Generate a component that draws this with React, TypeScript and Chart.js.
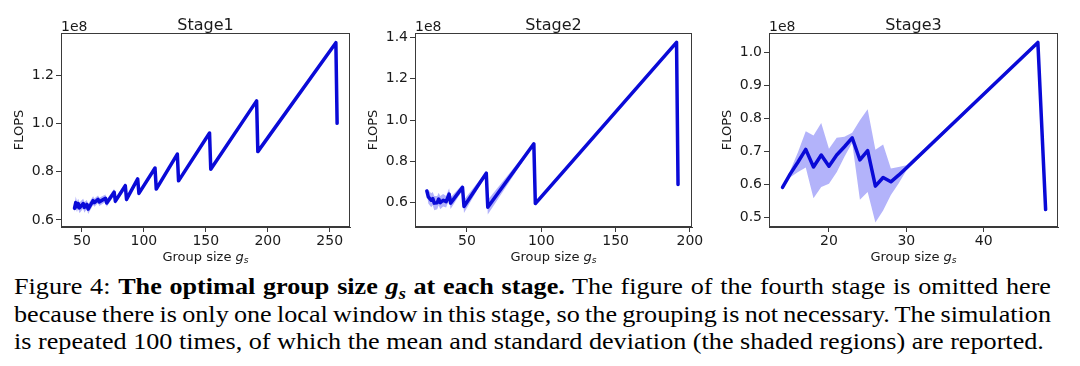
import React, { useEffect, useRef } from "react";
import { Chart, registerables } from "chart.js";

Chart.register(...registerables);

// ---------- data (FLOPS in units of 1e8) ----------
const STAGE1_GS = [44, 45, 46, 47, 48, 51, 52, 54, 55, 59, 60, 63, 64, 69, 70, 76, 77, 85, 86, 95, 96, 109, 110, 127, 128, 153, 154, 191, 192, 255, 256];
const STAGE1_MEAN = [0.648, 0.672, 0.655, 0.668, 0.650, 0.668, 0.652, 0.665, 0.645, 0.680, 0.672, 0.685, 0.675, 0.690, 0.670, 0.715, 0.678, 0.742, 0.685, 0.770, 0.710, 0.815, 0.728, 0.873, 0.762, 0.960, 0.810, 1.093, 0.883, 1.334, 1.000];
const STAGE1_STD = [0.015, 0.025, 0.022, 0.02, 0.022, 0.02, 0.022, 0.018, 0.02, 0.018, 0.017, 0.016, 0.017, 0.016, 0.015, 0.014, 0.013, 0.012, 0.012, 0.009, 0.009, 0.007, 0.007, 0.005, 0.005, 0.004, 0.004, 0.003, 0.003, 0.003, 0.003];
const STAGE1_X_TICKS = [50, 100, 150, 200, 250];
const STAGE1_Y_TICKS = [0.6, 0.8, 1.0, 1.2];

const STAGE2_GS = [23, 24, 26, 27, 28, 30, 31, 32, 34, 36, 38, 39, 47, 48, 63, 64, 95, 96, 191, 192];
const STAGE2_MEAN = [0.657, 0.628, 0.612, 0.620, 0.598, 0.600, 0.618, 0.600, 0.612, 0.605, 0.642, 0.598, 0.674, 0.582, 0.743, 0.578, 0.885, 0.596, 1.376, 0.688];
const STAGE2_STD = [0.012, 0.032, 0.034, 0.032, 0.034, 0.032, 0.03, 0.032, 0.03, 0.028, 0.028, 0.028, 0.014, 0.032, 0.007, 0.035, 0.004, 0.01, 0.003, 0.003];
const STAGE2_X_TICKS = [50, 100, 150, 200];
const STAGE2_Y_TICKS = [0.6, 0.8, 1.0, 1.2, 1.4];

const STAGE3_GS = [14, 15, 16, 17, 18, 19, 20, 21, 22, 23, 24, 25, 26, 27, 28, 29, 30, 47, 48];
const STAGE3_MEAN = [0.591, 0.632, 0.668, 0.706, 0.653, 0.689, 0.655, 0.689, 0.714, 0.741, 0.674, 0.702, 0.595, 0.621, 0.608, 0.628, 0.650, 1.029, 0.524];
const STAGE3_STD = [0.003, 0.01, 0.03, 0.055, 0.095, 0.097, 0.053, 0.052, 0.03, 0.015, 0.12, 0.125, 0.11, 0.1, 0.04, 0.025, 0.008, 0.002, 0.002];
const STAGE3_X_TICKS = [20, 30, 40];
const STAGE3_Y_TICKS = [0.5, 0.6, 0.7, 0.8, 0.9, 1.0];

const TITLES = ["Stage1", "Stage2", "Stage3"];
const X_LABEL = "Group size ";
const Y_LABEL = "FLOPS";
const OFFSET_TEXT = "1e8";

// ---------- styles ----------
const LINE = "rgb(10,10,215)";
const BAND = "rgba(20,20,240,0.32)";
const AXIS = "#3a3a3a";
const TEXT = "#1a1a1a";
const FONT = '"DejaVu Sans", sans-serif';
const CANVAS_H = 268;
const AREA_TOP = 33;
const AREA_BOTTOM = 227;
const XAXIS_H = 30;

type PanelProps = {
  left: number;
  width: number;
  areaLeft: number;
  areaRight: number;
  gs: number[];
  mean: number[];
  std: number[];
  xTicks: number[];
  yTicks: number[];
  xRange: [number, number];
  yRange: [number, number];
  title: string;
};

function Panel(p: PanelProps) {
  const ref = useRef<HTMLCanvasElement>(null);
  useEffect(() => {
    if (!ref.current) return;
    const lower = p.gs.map((x, i) => ({ x, y: p.mean[i] - p.std[i] }));
    const upper = p.gs.map((x, i) => ({ x, y: p.mean[i] + p.std[i] }));
    const line = p.gs.map((x, i) => ({ x, y: p.mean[i] }));

    const decor = {
      id: "decor",
      afterDraw(chart: any) {
        const { ctx, chartArea: a } = chart;
        ctx.save();
        ctx.strokeStyle = AXIS;
        ctx.lineWidth = 1;
        const l = Math.round(a.left) + 0.5;
        const t = Math.round(a.top) + 0.5;
        const r = Math.round(a.right) - 0.5;
        const b = Math.round(a.bottom) - 0.5;
        ctx.strokeRect(l, t, r - l, b - t);
        ctx.fillStyle = TEXT;
        ctx.font = `16px ${FONT}`;
        ctx.textAlign = "center";
        ctx.textBaseline = "alphabetic";
        ctx.fillText(p.title, (a.left + a.right) / 2, 29.5);
        ctx.font = `14px ${FONT}`;
        ctx.textAlign = "left";
        ctx.fillText(OFFSET_TEXT, a.left, 30.7);
        ctx.save();
        ctx.translate(a.left - 41, (a.top + a.bottom) / 2);
        ctx.rotate(-Math.PI / 2);
        ctx.font = `13px ${FONT}`;
        ctx.textAlign = "center";
        ctx.textBaseline = "middle";
        ctx.fillText(Y_LABEL, 0, 0);
        ctx.restore();
        ctx.textAlign = "left";
        ctx.textBaseline = "alphabetic";
        const fMain = `13px ${FONT}`;
        const fIt = `italic 13px ${FONT}`;
        const fSub = `italic 9.1px ${FONT}`;
        ctx.font = fMain;
        const w1 = ctx.measureText(X_LABEL).width;
        ctx.font = fIt;
        const w2 = ctx.measureText("g").width;
        ctx.font = fSub;
        const w3 = ctx.measureText("s").width;
        const x0 = (a.left + a.right) / 2 - (w1 + w2 + w3) / 2;
        const by = 260.5;
        ctx.font = fMain;
        ctx.fillText(X_LABEL, x0, by);
        ctx.font = fIt;
        ctx.fillText("g", x0 + w1, by);
        ctx.font = fSub;
        ctx.fillText("s", x0 + w1 + w2, by + 2.5);
        ctx.restore();
      },
    };

    const chart = new Chart(ref.current, {
      type: "line",
      data: {
        datasets: [
          {
            data: line,
            borderColor: LINE,
            borderWidth: 3.5,
            pointRadius: 0,
            fill: false,
            borderJoinStyle: "round",
            borderCapStyle: "round",
            tension: 0,
          },
          {
            data: lower,
            borderColor: "rgba(0,0,0,0)",
            borderWidth: 0,
            pointRadius: 0,
            fill: false,
            tension: 0,
          },
          {
            data: upper,
            borderColor: "rgba(0,0,0,0)",
            borderWidth: 0,
            pointRadius: 0,
            fill: "-1",
            backgroundColor: BAND,
            tension: 0,
          },
        ],
      } as any,
      options: {
        animation: false,
        responsive: false,
        devicePixelRatio: 1,
        events: [],
        layout: {
          padding: {
            left: 0,
            right: p.width - p.areaRight,
            top: AREA_TOP,
            bottom: CANVAS_H - AREA_BOTTOM - XAXIS_H,
          },
        },
        plugins: {
          legend: { display: false },
          tooltip: { enabled: false },
          title: { display: false },
        },
        scales: {
          x: {
            type: "linear",
            min: p.xRange[0],
            max: p.xRange[1],
            afterBuildTicks: (s: any) => {
              s.ticks = p.xTicks.map((v) => ({ value: v }));
            },
            afterFit: (s: any) => {
              s.height = XAXIS_H;
            },
            ticks: {
              font: { family: FONT, size: 14 },
              color: TEXT,
              padding: 1,
              maxRotation: 0,
              autoSkip: false,
              callback: (v: any) => String(v),
            },
            grid: { drawOnChartArea: false, drawTicks: true, tickLength: 5, color: AXIS },
            border: { display: true, color: AXIS },
          },
          y: {
            type: "linear",
            min: p.yRange[0],
            max: p.yRange[1],
            afterBuildTicks: (s: any) => {
              s.ticks = p.yTicks.map((v) => ({ value: v }));
            },
            afterFit: (s: any) => {
              s.width = p.areaLeft;
            },
            ticks: {
              font: { family: FONT, size: 14 },
              color: TEXT,
              padding: 2,
              autoSkip: false,
              callback: (v: any) => Number(v).toFixed(1),
            },
            grid: { drawOnChartArea: false, drawTicks: true, tickLength: 5, color: AXIS },
            border: { display: true, color: AXIS },
          },
        },
      } as any,
      plugins: [decor],
    });
    return () => chart.destroy();
  }, []);
  return (
    <canvas
      ref={ref}
      width={p.width}
      height={CANVAS_H}
      style={{ position: "absolute", left: p.left, top: 0, width: p.width, height: CANVAS_H }}
    />
  );
}

const SCALE_X = 1.138;
const CAPTION_W = 1037;

const lineBase: React.CSSProperties = {
  height: 27.5,
  whiteSpace: "nowrap",
  overflow: "visible",
};

const justified: any = {
  ...lineBase,
  textAlign: "justify",
  textAlignLast: "justify",
  wordSpacing: "-2.5px",
};

export default function App() {
  return (
    <div
      style={{
        position: "absolute",
        left: 0,
        top: 0,
        width: 1080,
        height: 366,
        background: "#fff",
        overflow: "hidden",
      }}
    >
      <Panel
        left={0}
        width={360}
        areaLeft={61}
        areaRight={350}
        gs={STAGE1_GS}
        mean={STAGE1_MEAN}
        std={STAGE1_STD}
        xTicks={STAGE1_X_TICKS}
        yTicks={STAGE1_Y_TICKS}
        xRange={[33.1, 266.4]}
        yRange={[0.571, 1.374]}
        title={TITLES[0]}
      />
      <Panel
        left={360}
        width={360}
        areaLeft={55}
        areaRight={332}
        gs={STAGE2_GS}
        mean={STAGE2_MEAN}
        std={STAGE2_STD}
        xTicks={STAGE2_X_TICKS}
        yTicks={STAGE2_Y_TICKS}
        xRange={[15.05, 201.4]}
        yRange={[0.4825, 1.4214]}
        title={TITLES[1]}
      />
      <Panel
        left={710}
        width={370}
        areaLeft={59}
        areaRight={348}
        gs={STAGE3_GS}
        mean={STAGE3_MEAN}
        std={STAGE3_STD}
        xTicks={STAGE3_X_TICKS}
        yTicks={STAGE3_Y_TICKS}
        xRange={[12.25, 49.6]}
        yRange={[0.4715, 1.0576]}
        title={TITLES[2]}
      />
      <div
        style={{
          position: "absolute",
          left: 14,
          top: 273.3,
          width: CAPTION_W / SCALE_X,
          transform: `scaleX(${SCALE_X})`,
          transformOrigin: "0 0",
          fontFamily: '"Liberation Serif", "Times New Roman", serif',
          fontSize: 23,
          lineHeight: "27.5px",
          color: "#000",
        }}
      >
        <div style={justified}>
          Figure 4: <b>The optimal group size <i>g</i><span style={{ fontSize: "0.7em", position: "relative", top: "0.3em", fontStyle: "italic", fontWeight: "bold" }}>s</span> at each stage.</b> The figure of the fourth stage is omitted here
        </div>
        <div style={justified}>
          because there is only one local window in this stage, so the grouping is not necessary. The simulation
        </div>
        <div style={{ ...lineBase, textAlign: "left" }}>
          is repeated 100 times, of which the mean and standard deviation (the shaded regions) are reported.
        </div>
      </div>
    </div>
  );
}
